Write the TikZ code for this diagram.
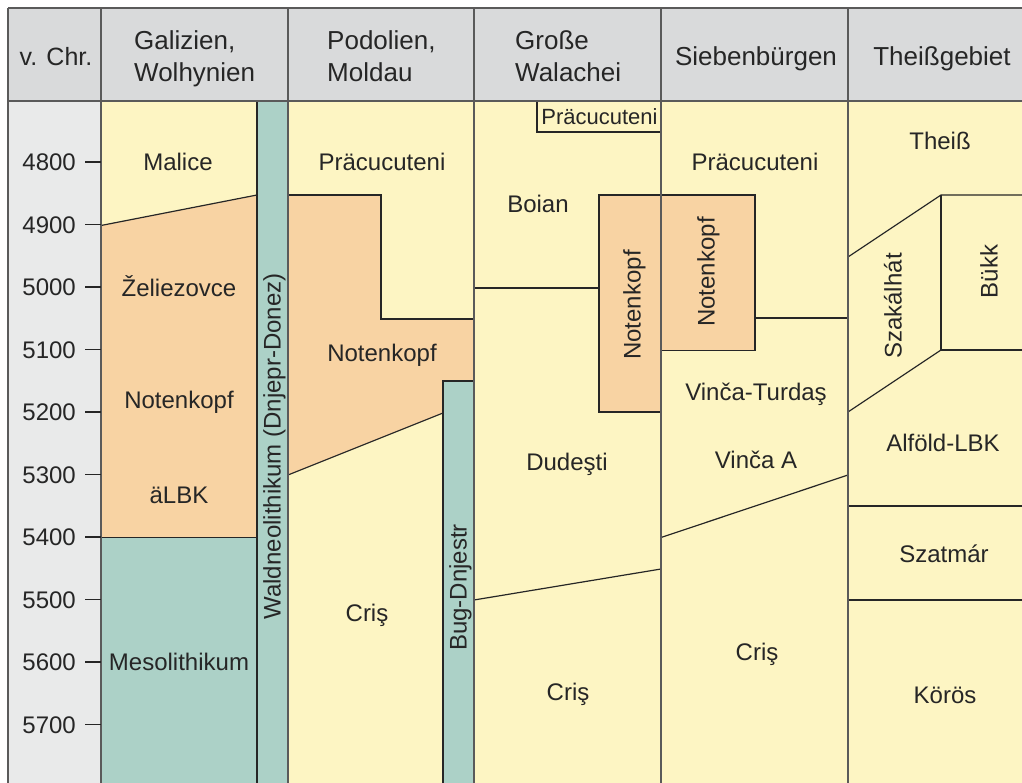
\documentclass[tikz,border=0pt]{standalone}
\usepackage{fontspec}
\setmainfont{Liberation Sans}
\definecolor{hdr}{HTML}{D9DADB}
\definecolor{yrs}{HTML}{E9EAEA}
\definecolor{yel}{HTML}{FDF5C3}
\definecolor{ora}{HTML}{F8D3A3}
\definecolor{tea}{HTML}{ACD1C7}
\definecolor{ink}{HTML}{262626}
\definecolor{gridc}{HTML}{5A5A5A}
\begin{document}
\begin{tikzpicture}[x=1pt,y=-1pt,
  lbl/.style={inner sep=0pt, text height=17.2pt, text depth=0pt, font=\fontsize{24}{28}\selectfont, text=ink},
  vlbl/.style={lbl, rotate=90},
  hdl/.style={lbl, text height=18.6pt, font=\fontsize{26}{32}\selectfont},
  hd/.style={inner sep=0pt, align=left, anchor=north west, font=\fontsize{26}{32}\selectfont, text=ink},
  yr/.style={lbl, anchor=east},
  gridline/.style={draw=gridc, line width=1.7pt},
  sep/.style={draw=ink, line width=1.2pt},
]
\useasboundingbox (0,0) rectangle (1022,783);
% backgrounds
\fill[hdr] (8,8) rectangle (1022,101);
\fill[yrs] (8,101) rectangle (101,783);
\fill[yel] (101,101) rectangle (1022,783);
% column 1
\fill[ora] (101,225.5) -- (257,195) -- (257,537.5) -- (101,537.5) -- cycle;
\fill[tea] (101,537.5) rectangle (257,783);
\draw[sep] (101,225.5) -- (257,195);
\draw[sep] (101,537.5) -- (257,537.5);
\fill[tea] (257,101) rectangle (288,783);
\draw[sep] (257,101) -- (257,783);
% column 2
\fill[ora] (288,195) -- (381,195) -- (381,319) -- (474,319) -- (474,381) -- (443,381) -- (443,413) -- (288,475) -- cycle;
\draw[sep] (288,195) -- (381,195) -- (381,319) -- (474,319);
\draw[sep] (443,413) -- (288,475);
\fill[tea] (443,381) rectangle (474,783);
\draw[sep] (474,381) -- (443,381) -- (443,783);
% column 3
\draw[sep] (537,101) -- (537,132) -- (661,132);
\draw[sep] (474,288) -- (599,288);
\filldraw[fill=ora, sep] (599,195) rectangle (661,412);
\draw[sep] (474,600) -- (661,569);
% column 4
\filldraw[fill=ora, sep] (661,195) rectangle (755,350.5);
\draw[sep] (755,318) -- (848,318);
\draw[sep] (661,537.5) -- (848,475);
% column 5
\draw[sep] (848,257) -- (941,195) -- (1022,195);
\draw[sep] (941,195) -- (941,350) -- (1022,350);
\draw[sep] (848,412) -- (941,350);
\draw[sep] (848,506) -- (1022,506);
\draw[sep] (848,600) -- (1022,600);
% grid
\draw[gridline] (8,8) -- (1022,8);
\draw[gridline] (8,8) -- (8,783);
\draw[gridline] (8,101) -- (1022,101);
\foreach \x in {101,288,474,661,848} \draw[gridline] (\x,8) -- (\x,783);
% year scale
\foreach \yr in {4800,4900,...,5700} {
  \pgfmathsetmacro{\yy}{162+(\yr-4800)*0.625}
  \draw[sep] (85,\yy) -- (101,\yy);
  \node[yr] (y\yr) at (76,\yy) {\yr};
}
% headers
\node[lbl, font=\fontsize{25}{30}\selectfont] (h0) at (56,56.5) {v. Chr.};
\node[hd] (h1) at (134,30) {Galizien,\\Wolhynien};
\node[hd] (h2) at (327,30) {Podolien,\\Moldau};
\node[hd] (h3) at (515,30) {Große\\Walachei};
\node[hdl] (h4) at (756,56.5) {Siebenbürgen};
\node[hdl] (h5) at (942,56.5) {Theißgebiet};
% column 1 labels
\node[lbl] (malice) at (178,162) {Malice};
\node[lbl] (zel) at (179,288) {Želiezovce};
\node[lbl] (nk1) at (179,400) {Notenkopf};
\node[lbl] (albk) at (179,495) {äLBK};
\node[lbl] (meso) at (179,662) {Mesolithikum};
\node[vlbl] (wald) at (272,446.5) {Waldneolithikum (Dnjepr-Donez)};
% column 2 labels
\node[lbl] (pr2) at (382,162) {Präcucuteni};
\node[lbl] (nk2) at (382,353) {Notenkopf};
\node[lbl] (cr2) at (367,613) {Criş};
\node[vlbl] (bug) at (458,587.5) {Bug-Dnjestr};
% column 3 labels
\node[lbl, text height=15.8pt, font=\fontsize{22}{26}\selectfont] (pr3) at (599.5,117) {Präcucuteni};
\node[lbl] (boian) at (538,204) {Boian};
\node[vlbl] (nk3) at (632,305) {Notenkopf};
\node[lbl] (dud) at (567,462) {Dudeşti};
\node[lbl] (cr3) at (568,692) {Criş};
% column 4 labels
\node[lbl] (pr4) at (755,162) {Präcucuteni};
\node[vlbl] (nk4) at (706,272) {Notenkopf};
\node[lbl] (vt) at (756,392) {Vinča-Turdaş};
\node[lbl] (va) at (756,460) {Vinča A};
\node[lbl] (cr4) at (757,652) {Criş};
% column 5 labels
\node[lbl] (theiss) at (940,141) {Theiß};
\node[vlbl] (szak) at (893,306) {Szakálhát};
\node[vlbl] (bukk) at (989,271.5) {Bükk};
\node[lbl] (alf) at (943,443) {Alföld-LBK};
\node[lbl] (szat) at (944,554) {Szatmár};
\node[lbl] (koros) at (945,695) {Körös};
\end{tikzpicture}
\end{document}
